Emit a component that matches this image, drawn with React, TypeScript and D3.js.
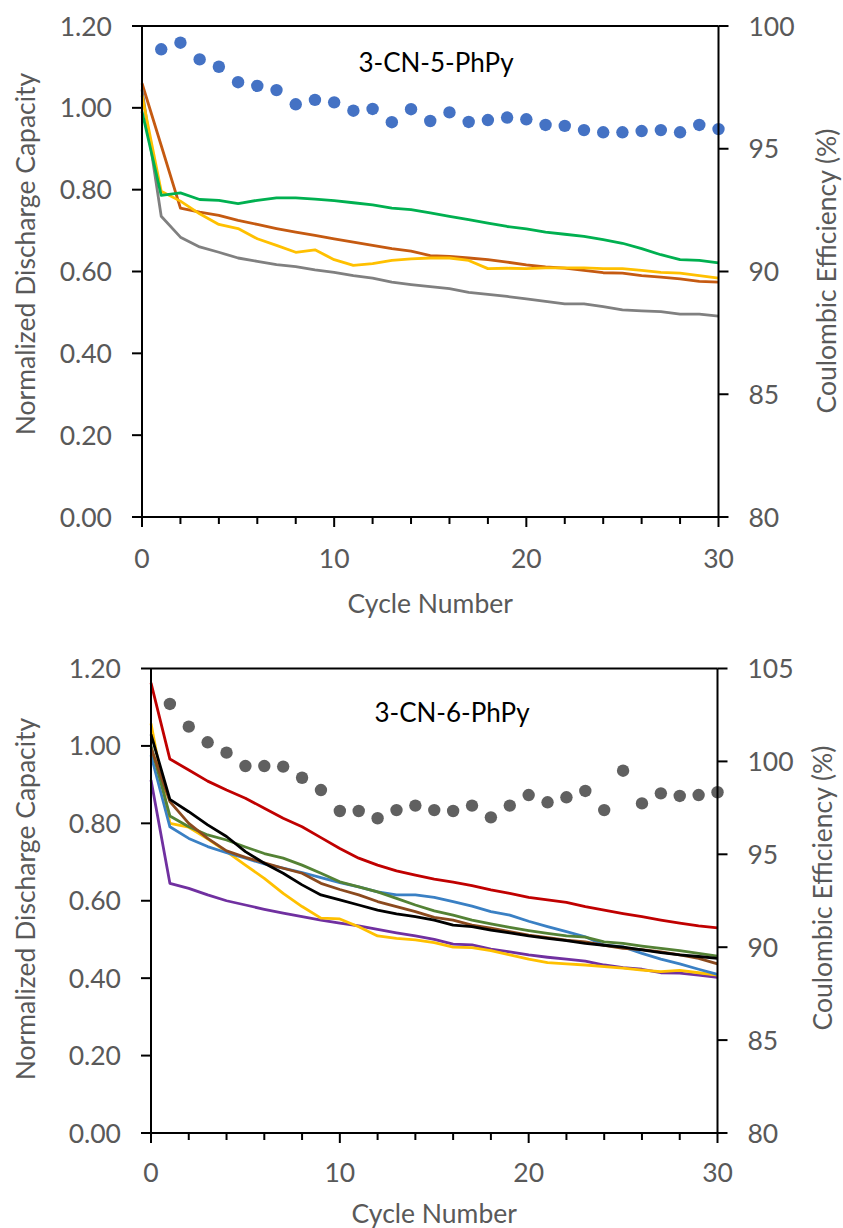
import React from "react";
import * as d3 from "d3";

// ---------- DATA ----------
const cycles = [0,1,2,3,4,5,6,7,8,9,10,11,12,13,14,15,16,17,18,19,20,21,22,23,24,25,26,27,28,29,30];
const ceCycles = [1,2,3,4,5,6,7,8,9,10,11,12,13,14,15,16,17,18,19,20,21,22,23,24,25,26,27,28,29,30];

const capTicks = [0, 0.2, 0.4, 0.6, 0.8, 1.0, 1.2];
const cycleTicks = [0, 10, 20, 30];
const topCeTicks = [80, 85, 90, 95, 100];
const botCeTicks = [80, 85, 90, 95, 100, 105];

// Panel 1: 3-CN-5-PhPy
const top_orange = [1.060, 0.908, 0.755, 0.745, 0.737, 0.725, 0.715, 0.705, 0.696, 0.688, 0.680, 0.672, 0.664, 0.656, 0.650, 0.639, 0.637, 0.633, 0.629, 0.623, 0.616, 0.611, 0.608, 0.603, 0.597, 0.596, 0.590, 0.586, 0.582, 0.576, 0.574];
const top_yellow = [1.030, 0.796, 0.772, 0.741, 0.715, 0.705, 0.680, 0.664, 0.647, 0.653, 0.629, 0.615, 0.619, 0.627, 0.631, 0.633, 0.633, 0.627, 0.607, 0.608, 0.607, 0.609, 0.609, 0.609, 0.607, 0.607, 0.603, 0.598, 0.596, 0.590, 0.584];
const top_green = [0.991, 0.786, 0.792, 0.776, 0.774, 0.766, 0.774, 0.780, 0.780, 0.777, 0.773, 0.768, 0.763, 0.755, 0.751, 0.743, 0.735, 0.727, 0.718, 0.710, 0.704, 0.696, 0.691, 0.686, 0.678, 0.669, 0.656, 0.641, 0.629, 0.627, 0.621];
const top_gray = [1.045, 0.735, 0.684, 0.660, 0.647, 0.633, 0.625, 0.617, 0.612, 0.604, 0.598, 0.590, 0.584, 0.574, 0.568, 0.563, 0.558, 0.549, 0.544, 0.539, 0.533, 0.527, 0.521, 0.521, 0.514, 0.506, 0.504, 0.502, 0.496, 0.496, 0.491];
const top_ce = [99.05, 99.32, 98.64, 98.34, 97.71, 97.56, 97.39, 96.81, 96.99, 96.89, 96.55, 96.62, 96.08, 96.61, 96.13, 96.48, 96.09, 96.17, 96.27, 96.20, 95.97, 95.93, 95.76, 95.67, 95.67, 95.72, 95.76, 95.67, 95.97, 95.80];

// Panel 2: 3-CN-6-PhPy
const bot_red = [1.163, 0.966, 0.938, 0.909, 0.886, 0.865, 0.839, 0.813, 0.791, 0.763, 0.735, 0.710, 0.692, 0.677, 0.666, 0.656, 0.648, 0.639, 0.628, 0.619, 0.609, 0.602, 0.596, 0.585, 0.576, 0.567, 0.559, 0.550, 0.542, 0.535, 0.530];
const bot_black = [1.030, 0.862, 0.830, 0.796, 0.766, 0.727, 0.697, 0.671, 0.641, 0.615, 0.602, 0.589, 0.576, 0.566, 0.559, 0.550, 0.537, 0.533, 0.524, 0.517, 0.509, 0.503, 0.497, 0.490, 0.485, 0.480, 0.473, 0.466, 0.460, 0.456, 0.451];
const bot_green = [1.000, 0.819, 0.791, 0.770, 0.757, 0.739, 0.722, 0.710, 0.692, 0.671, 0.649, 0.636, 0.623, 0.606, 0.589, 0.574, 0.563, 0.550, 0.540, 0.531, 0.523, 0.516, 0.509, 0.506, 0.494, 0.490, 0.483, 0.477, 0.471, 0.464, 0.457];
const bot_brown = [0.995, 0.856, 0.800, 0.761, 0.729, 0.712, 0.698, 0.684, 0.671, 0.645, 0.629, 0.615, 0.598, 0.585, 0.572, 0.557, 0.550, 0.537, 0.529, 0.520, 0.511, 0.505, 0.498, 0.494, 0.485, 0.477, 0.474, 0.468, 0.460, 0.451, 0.437];
const bot_blue = [0.976, 0.791, 0.761, 0.740, 0.724, 0.710, 0.695, 0.684, 0.673, 0.660, 0.647, 0.636, 0.623, 0.615, 0.615, 0.609, 0.598, 0.586, 0.572, 0.563, 0.547, 0.533, 0.520, 0.507, 0.485, 0.481, 0.464, 0.449, 0.437, 0.423, 0.410];
const bot_yellow = [1.058, 0.800, 0.790, 0.760, 0.727, 0.692, 0.658, 0.619, 0.585, 0.555, 0.553, 0.533, 0.509, 0.503, 0.499, 0.492, 0.480, 0.479, 0.471, 0.460, 0.449, 0.440, 0.437, 0.434, 0.430, 0.426, 0.421, 0.417, 0.420, 0.414, 0.408];
const bot_purple = [0.912, 0.645, 0.632, 0.615, 0.600, 0.589, 0.578, 0.568, 0.559, 0.550, 0.542, 0.535, 0.526, 0.517, 0.509, 0.500, 0.488, 0.486, 0.475, 0.468, 0.460, 0.454, 0.449, 0.444, 0.434, 0.427, 0.423, 0.414, 0.413, 0.408, 0.402];
const bot_ce = [103.09, 101.87, 101.03, 100.47, 99.75, 99.75, 99.72, 99.12, 98.46, 97.33, 97.33, 96.94, 97.38, 97.62, 97.38, 97.33, 97.62, 96.99, 97.62, 98.19, 97.80, 98.07, 98.41, 97.38, 99.50, 97.74, 98.28, 98.14, 98.19, 98.34];

const topSeries = [
  { values: top_orange, color: "#C55A11" },
  { values: top_gray, color: "#808080" },
  { values: top_yellow, color: "#FFC000" },
  { values: top_green, color: "#00B050" },
];
const botSeries = [
  { values: bot_purple, color: "#7030A0" },
  { values: bot_yellow, color: "#FFC000" },
  { values: bot_blue, color: "#3A80C4" },
  { values: bot_green, color: "#548235" },
  { values: bot_brown, color: "#8B4A1E" },
  { values: bot_black, color: "#000000" },
  { values: bot_red, color: "#C00000" },
];

const FONT = "Lato, 'Open Sans', sans-serif";
const GRAY = "#595959";
const FS = 26.5;

type PanelProps = {
  x0: number; x1: number; yTop: number; yBot: number;
  series: { values: number[]; color: string }[];
  ce: number[]; ceColor: string; ceDomain: [number, number]; ceTicks: number[];
  title: string; titleX: number; titleY: number;
  leftTitleX: number; leftTitleY: number; rightTitleX: number; rightTitleY: number;
  xLabelY: number; xTitleY: number;
};

function Panel(p: PanelProps) {
  const x = d3.scaleLinear().domain([0, 30]).range([p.x0, p.x1]);
  const y = d3.scaleLinear().domain([0, 1.2]).range([p.yBot, p.yTop]);
  const yr = d3.scaleLinear().domain(p.ceDomain).range([p.yBot, p.yTop]);
  const line = d3.line<number>().x((_, i) => x(cycles[i])).y((d) => y(d));
  const minor = d3.range(0, 31, 2);
  return (
    <g>
      {p.series.map((s, i) => (
        <path key={i} d={line(s.values) || ""} fill="none" stroke={s.color} strokeWidth={2.8} strokeLinejoin="round" />
      ))}
      {p.ce.map((v, i) => (
        <circle key={i} cx={x(ceCycles[i])} cy={yr(v)} r={6.2} fill={p.ceColor} />
      ))}
      <line x1={p.x0} x2={p.x1} y1={p.yTop} y2={p.yTop} stroke="#000" strokeWidth={2} />
      <line x1={p.x0} x2={p.x1} y1={p.yBot} y2={p.yBot} stroke="#000" strokeWidth={2} />
      <line x1={p.x0} x2={p.x0} y1={p.yTop} y2={p.yBot} stroke="#000" strokeWidth={2} />
      <line x1={p.x1} x2={p.x1} y1={p.yTop} y2={p.yBot} stroke="#000" strokeWidth={2} />
      {minor.map((t) => (
        <line key={"m" + t} x1={x(t)} x2={x(t)} y1={p.yBot} y2={p.yBot + (t % 10 === 0 ? 10 : 7)} stroke="#000" strokeWidth={2} />
      ))}
      {cycleTicks.map((t) => (
        <text key={"xl" + t} x={x(t)} y={p.xLabelY} textAnchor="middle" fontFamily={FONT} fontSize={FS} fill={GRAY}>{t}</text>
      ))}
      {capTicks.map((t) => (
        <g key={"l" + t}>
          <line x1={p.x0 - 10} x2={p.x0} y1={y(t)} y2={y(t)} stroke="#000" strokeWidth={2} />
          <text x={p.x0 - 30} y={y(t)} dy="0.36em" textAnchor="end" fontFamily={FONT} fontSize={FS} fill={GRAY}>{t.toFixed(2)}</text>
        </g>
      ))}
      {p.ceTicks.map((t) => (
        <g key={"r" + t}>
          <line x1={p.x1} x2={p.x1 + 10} y1={yr(t)} y2={yr(t)} stroke="#000" strokeWidth={2} />
          <text x={p.x1 + 30} y={yr(t)} dy="0.36em" textAnchor="start" fontFamily={FONT} fontSize={FS} fill={GRAY}>{t}</text>
        </g>
      ))}
      <text x={p.titleX} y={p.titleY} textAnchor="middle" fontFamily={FONT} fontSize={26} fill="#000">{p.title}</text>
      <text x={(p.x0 + p.x1) / 2} y={p.xTitleY} dy="0.36em" textAnchor="middle" fontFamily={FONT} fontSize={FS} fill={GRAY}>Cycle Number</text>
      <text transform={`translate(${p.leftTitleX},${p.leftTitleY}) rotate(-90)`} dy="0.36em" textAnchor="middle" fontFamily={FONT} fontSize={FS} fill={GRAY}>Normalized Discharge Capacity</text>
      <text transform={`translate(${p.rightTitleX},${p.rightTitleY}) rotate(-90)`} dy="0.36em" textAnchor="middle" fontFamily={FONT} fontSize={FS} fill={GRAY}>Coulombic Efficiency (%)</text>
    </g>
  );
}

export default function App() {
  return (
    <svg width={843} height={1228} style={{ position: "absolute", left: 0, top: 0, background: "#fff" }}>
      <rect width={843} height={1228} fill="#fff" />
      <Panel x0={142} x1={718.5} yTop={26} yBot={517} series={topSeries}
        ce={top_ce} ceColor="#4472C4" ceDomain={[80, 100]} ceTicks={topCeTicks}
        title="3-CN-5-PhPy" titleX={436} titleY={71.5}
        leftTitleX={25} leftTitleY={254} rightTitleX={826} rightTitleY={271}
        xLabelY={568} xTitleY={603} />
      <Panel x0={151} x1={717.5} yTop={668.5} yBot={1133} series={botSeries}
        ce={bot_ce} ceColor="#606060" ceDomain={[80, 105]} ceTicks={botCeTicks}
        title="3-CN-6-PhPy" titleX={452} titleY={722}
        leftTitleX={25} leftTitleY={899} rightTitleX={822} rightTitleY={888}
        xLabelY={1182} xTitleY={1213} />
    </svg>
  );
}
